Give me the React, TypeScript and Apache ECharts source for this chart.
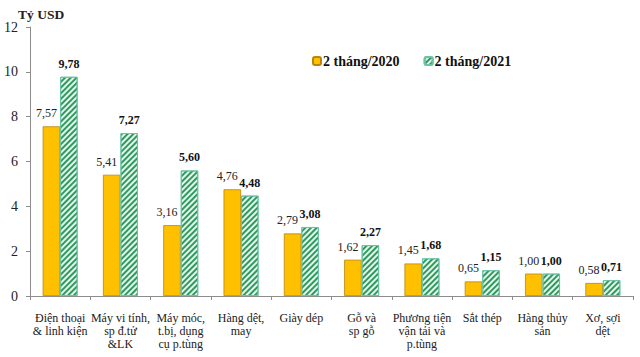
import React, { useEffect, useRef } from "react";
import * as echarts from "echarts";

const categories = [
  "Điện thoại\n& linh kiện",
  "Máy vi tính,\nsp đ.tử\n&LK",
  "Máy móc,\nt.bị, dụng\ncụ p.tùng",
  "Hàng dệt,\nmay",
  "Giày dép",
  "Gỗ và\nsp gỗ",
  "Phương tiện\nvận tải và\np.tùng",
  "Sắt thép",
  "Hàng thủy\nsản",
  "Xơ, sợi\ndệt",
];
const values2020 = [7.57, 5.41, 3.16, 4.76, 2.79, 1.62, 1.45, 0.65, 1.0, 0.58];
const values2021 = [9.78, 7.27, 5.6, 4.48, 3.08, 2.27, 1.68, 1.15, 1.0, 0.71];
const seriesNames = ["2 tháng/2020", "2 tháng/2021"];
const unitLabel = "Tỷ USD";

const SERIF = "'Liberation Serif', 'DejaVu Serif', serif";
const fmt = (v: number) => v.toFixed(2).replace(".", ",");

export default function App() {
  const ref = useRef<HTMLDivElement>(null);
  useEffect(() => {
    if (!ref.current) return;
    const chart = echarts.init(ref.current, null, { renderer: "svg" });
    chart.setOption({
      animation: false,
      backgroundColor: "#ffffff",
      textStyle: { fontFamily: SERIF },
      title: {
        text: unitLabel,
        left: 13,
        top: 2,
        textStyle: { fontFamily: SERIF, fontWeight: "bold", fontSize: 13.5, color: "#222" },
      },
      legend: {
        top: 49,
        left: 307,
        itemWidth: 8,
        itemHeight: 8,
        itemGap: 24,
        textStyle: { fontFamily: SERIF, fontWeight: "bold", fontSize: 14, color: "#111", padding: [0, 0, 0, -3] },
        data: seriesNames,
      },
      grid: { left: 30, right: 7, top: 27, bottom: 61, containLabel: false },
      xAxis: {
        type: "category",
        data: categories,
        axisLine: { lineStyle: { color: "#8c8c8c" } },
        axisTick: { show: true, length: 4, lineStyle: { color: "#8c8c8c" } },
        axisLabel: {
          interval: 0,
          margin: 15,
          fontFamily: SERIF,
          fontSize: 12,
          lineHeight: 13,
          color: "#222",
        },
      },
      yAxis: {
        type: "value",
        min: 0,
        max: 12,
        interval: 2,
        axisLine: { show: true, lineStyle: { color: "#8c8c8c" } },
        axisTick: { show: true, length: 4, lineStyle: { color: "#8c8c8c" } },
        splitLine: { show: false },
        axisLabel: { fontFamily: SERIF, fontSize: 14, color: "#222", margin: 12 },
      },
      series: [
        {
          name: seriesNames[0],
          type: "bar",
          data: values2020,
          barWidth: 17.5,
          barGap: "0%",
          itemStyle: { color: "#FFC000", borderColor: "#B8860B", borderWidth: 0.8 },
          label: {
            show: true,
            position: "top",
            distance: 7,
            offset: [-5, 0],
            formatter: (p: any) => fmt(p.value),
            fontFamily: SERIF,
            fontSize: 12,
            color: "#222",
          },
        },
        {
          name: seriesNames[1],
          type: "bar",
          data: values2021,
          barWidth: 17.5,
          barGap: "0%",
          itemStyle: {
            color: "#e4f7ee",
            borderColor: "#6cc3a8",
            borderWidth: 1,
            decal: {
              symbol: "rect",
              symbolSize: 1,
              color: "#2f9a5c",
              dashArrayX: [1, 0],
              dashArrayY: [2, 2],
              rotation: -Math.PI / 4,
            },
          },
          label: {
            show: true,
            position: "top",
            distance: 7,
            formatter: (p: any) => fmt(p.value),
            fontFamily: SERIF,
            fontWeight: "bold",
            fontSize: 12,
            color: "#111",
          },
        },
      ],
    });
    return () => chart.dispose();
  }, []);
  return (
    <div
      ref={ref}
      style={{ position: "fixed", left: 0, top: 0, width: 640, height: 357 }}
    />
  );
}
